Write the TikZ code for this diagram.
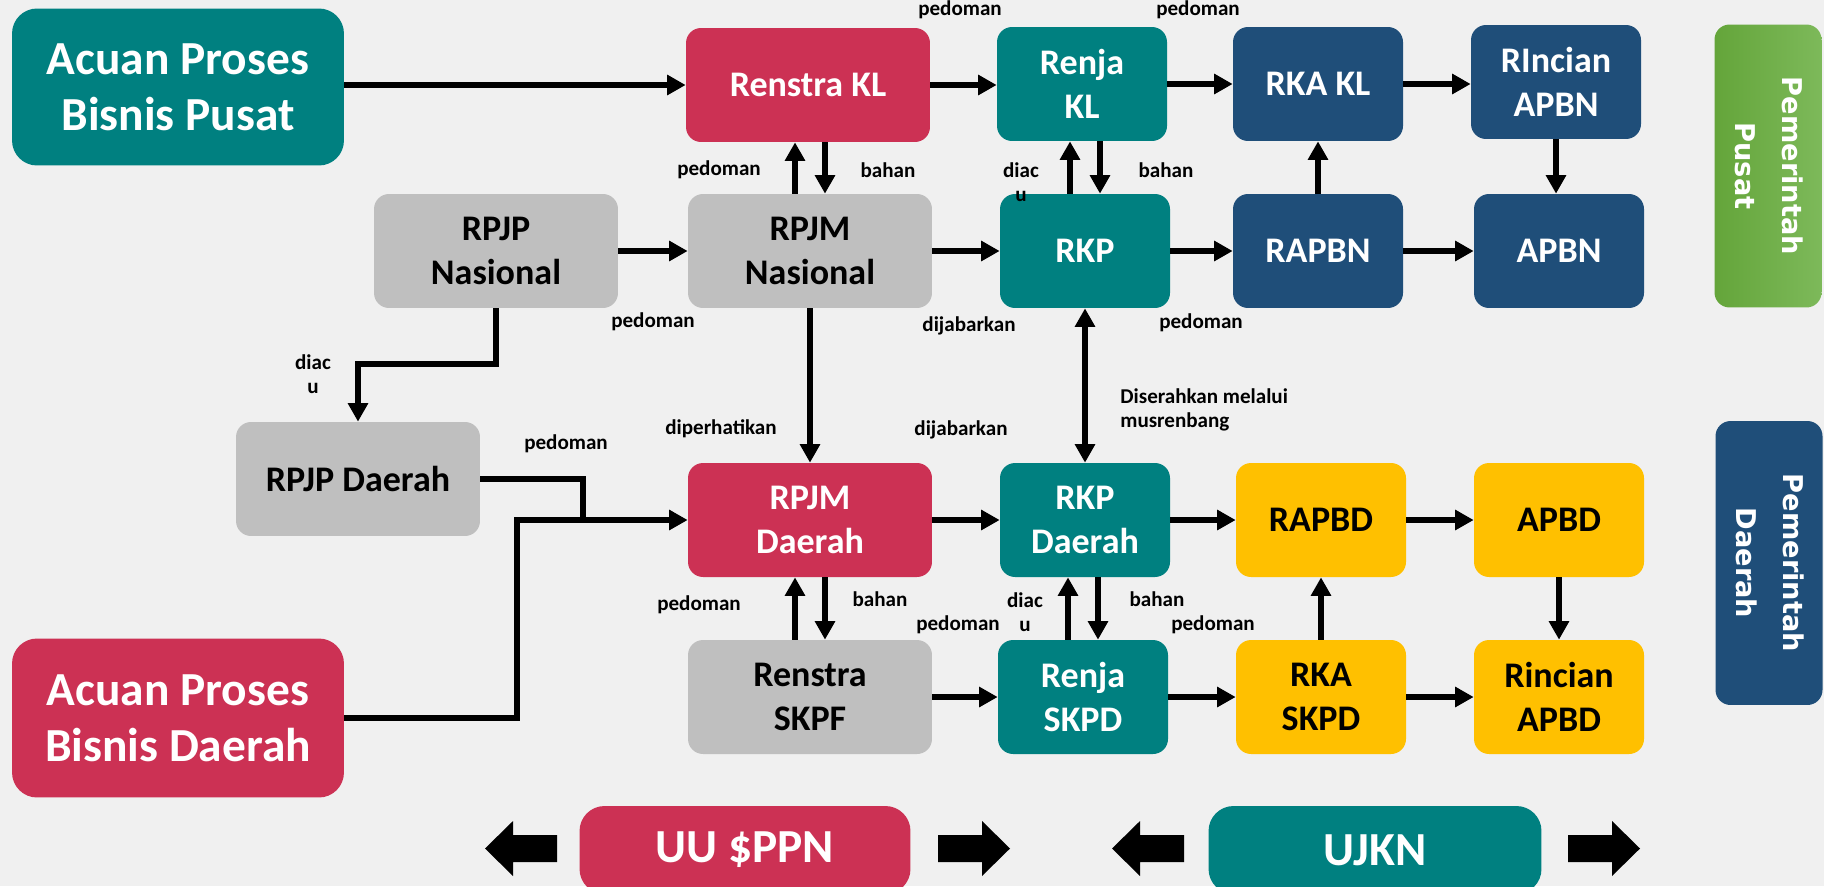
\documentclass[tikz,border=0pt]{standalone}
\usepackage{fontspec}
\setmainfont{Carlito}
\newfontfamily\sidefont{DejaVu Sans}
\usetikzlibrary{arrows.meta,calc}
\definecolor{bggray}{RGB}{240,240,240}
\definecolor{tealbox}{RGB}{0,128,128}
\definecolor{berrybox}{RGB}{204,49,84}
\definecolor{navybox}{RGB}{31,78,121}
\definecolor{graybox}{RGB}{191,191,191}
\definecolor{goldbox}{RGB}{255,192,0}
\definecolor{leafdark}{RGB}{100,165,58}
\definecolor{leaflight}{RGB}{125,185,90}
\newcommand\sidetext[2]{\rotatebox{-90}{\begin{tabular}{@{}c@{}}#1\\#2\end{tabular}}}
\tikzset{
  planbox/.style={rounded corners=0.3cm,minimum height=2.28cm,align=center,inner sep=2pt,
    font=\bfseries\fontsize{20.5}{25}\selectfont},
  widebox/.style={planbox,minimum width=4.88cm},
  slimbox/.style={planbox,minimum width=3.4cm},
  bigbox/.style={rounded corners=0.5cm,minimum width=6.64cm,align=center,
    font=\bfseries\fontsize{27}{32}\selectfont},
  sidebox/.style={rounded corners=0.3cm,minimum width=2.14cm,inner sep=0pt,
    text=white,font=\sidefont\bfseries\fontsize{15.5}{26.7}\selectfont},
  tealb/.style={fill=tealbox,text=white},
  berryb/.style={fill=berrybox,text=white},
  navyb/.style={fill=navybox,text=white},
  grayb/.style={fill=graybox,text=black},
  goldb/.style={fill=goldbox,text=black},
  conn/.style={line width=3.3pt,-{Triangle[length=10.5pt,width=11pt]}},
  biconn/.style={line width=3.3pt,{Triangle[length=10.5pt,width=11pt]}-{Triangle[length=10.5pt,width=11pt]}},
  lbl/.style={inner sep=0pt,align=center,font=\bfseries\fontsize{12}{13.5}\selectfont}
}
\begin{document}
\begin{tikzpicture}[x=0.02cm,y=-0.02cm]
\useasboundingbox (0,0) rectangle (1824,886);
\clip (0,0) rectangle (1824,886);
\fill[bggray] (0,0) rectangle (1824,886);

\node[bigbox,tealb,minimum height=3.14cm] (acuanP) at (178,87) {Acuan Proses\\Bisnis Pusat};
\node[bigbox,berryb,minimum height=3.18cm] (acuanD) at (178,718) {Acuan Proses\\Bisnis Daerah};

\node[widebox,berryb] (renstraKL) at (808,85) {Renstra KL};
\node[slimbox,tealb] (renjaKL) at (1082,84) {Renja\\KL};
\node[slimbox,navyb] (rkaKL) at (1318,84) {RKA KL};
\node[slimbox,navyb] (rincianAPBN) at (1556,82) {RIncian\\APBN};

\node[widebox,grayb] (rpjpNas) at (496,251) {RPJP\\Nasional};
\node[widebox,grayb] (rpjmNas) at (810,251) {RPJM\\Nasional};
\node[slimbox,tealb] (rkp) at (1085,251) {RKP};
\node[slimbox,navyb] (rapbn) at (1318,251) {RAPBN};
\node[slimbox,navyb] (apbn) at (1559,251) {APBN};

\node[widebox,grayb] (rpjpDaerah) at (358,479) {RPJP Daerah};
\node[widebox,berryb] (rpjmDaerah) at (810,520) {RPJM\\Daerah};
\node[slimbox,tealb] (rkpDaerah) at (1085,520) {RKP\\Daerah};
\node[slimbox,goldb] (rapbd) at (1321,520) {RAPBD};
\node[slimbox,goldb] (apbd) at (1559,520) {APBD};

\node[widebox,grayb] (renstraSKPF) at (810,697) {Renstra\\SKPF};
\node[slimbox,tealb] (renjaSKPD) at (1083,697) {Renja\\SKPD};
\node[slimbox,goldb] (rkaSKPD) at (1321,697) {RKA\\SKPD};
\node[slimbox,goldb] (rincianAPBD) at (1559,697) {Rincian\\APBD};

\node[sidebox,left color=leafdark,right color=leaflight,minimum height=5.66cm] (pusat) at (1768,166) {\sidetext{Pemerintah}{Pusat}};
\node[sidebox,fill=navybox,minimum height=5.68cm] (daerah) at (1769,563) {\sidetext{Pemerintah}{Daerah}};

\node[bigbox,berryb,minimum width=6.62cm,minimum height=1.76cm] (uu) at (745,850) {UU \$PPN};
\node[bigbox,tealb,minimum width=6.66cm,minimum height=1.76cm] (ujkn) at (1375,850) {UJKN};

\foreach \x/\d in {557/-1,938/1,1184/-1,1568/1}
  \fill (\x,835) -- ++(44*\d,0) -- ++(0,-14) -- ++(28*\d,27.5) -- ++(-28*\d,27.5)
    -- ++(0,-14) -- ++(-44*\d,0) -- cycle;

\draw[conn] (acuanP.east |- renstraKL.west) -- (renstraKL.west);
\foreach \a/\b in {renstraKL/renjaKL,renjaKL/rkaKL,rkaKL/rincianAPBN,
  rpjpNas/rpjmNas,rpjmNas/rkp,rkp/rapbn,rapbn/apbn,
  rpjmDaerah/rkpDaerah,rkpDaerah/rapbd,rapbd/apbd,
  renstraSKPF/renjaSKPD,renjaSKPD/rkaSKPD,rkaSKPD/rincianAPBD}
  \draw[conn] (\a.east) -- (\a.east -| \b.west);
\foreach \lo/\hi in {rpjmNas/renstraKL,rkp/renjaKL,renstraSKPF/rpjmDaerah,renjaSKPD/rkpDaerah} {
  \draw[conn] ([xshift=-0.3cm]\lo.north) -- ([xshift=-0.3cm]\lo.north |- \hi.south);
  \draw[conn] ([xshift=0.3cm]\lo.north |- \hi.south) -- ([xshift=0.3cm]\lo.north);
}
\draw[conn] (rapbn.north) -- (rapbn.north |- rkaKL.south);
\draw[conn] (rincianAPBN.south) -- (rincianAPBN.south |- apbn.north);
\draw[conn] (rkaSKPD.north) -- (rkaSKPD.north |- rapbd.south);
\draw[conn] (apbd.south) -- (apbd.south |- rincianAPBD.north);
\draw[conn] (rpjmNas.south) -- (rpjmDaerah.north);
\draw[biconn] (rkp.south) -- (rkpDaerah.north);
\draw[conn] (rpjpNas.south) -- ++(0,56) -| (rpjpDaerah.north);
\path (rpjmDaerah.west) ++(-105,0) coordinate (merge);
\draw[line width=3.3pt] (rpjpDaerah.east) -| (merge);
\draw[conn] (acuanD.east) -- ++(173,0) |- (rpjmDaerah.west);

\foreach \x/\y/\t [count=\i] in {960/10/pedoman,1198/10/pedoman,719/170/pedoman,888/170/bahan,
  1021/182/{diac\\u},1166/170/bahan,653/322/pedoman,969/326/dijabarkan,1201/323/pedoman,
  313/374/{diac\\u},721/429/diperhatikan,961/430/dijabarkan,566/444/pedoman,
  699/605/pedoman,880/599/bahan,1025/612/{diac\\u},958/625/pedoman,1157/599/bahan,1213/625/pedoman}
  \node[lbl] (lab\i) at (\x,\y) {\t};
\node[lbl,align=left,anchor=west] (musren) at (1120,410) {Diserahkan melalui\\musrenbang};
\end{tikzpicture}
\end{document}
